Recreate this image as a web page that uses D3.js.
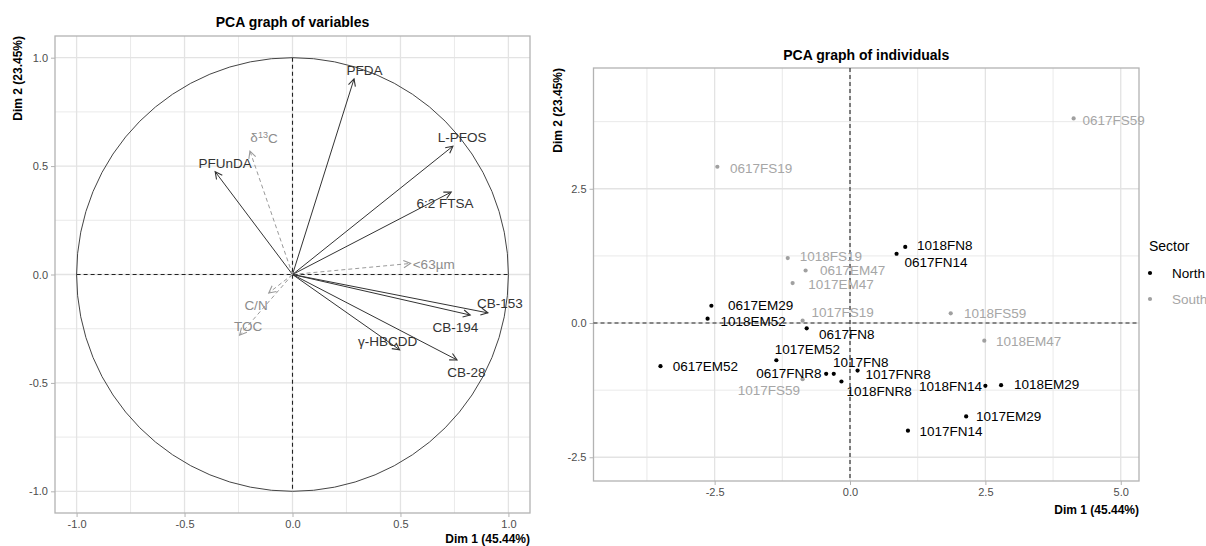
<!DOCTYPE html>
<html><head><meta charset="utf-8">
<script src="https://cdn.jsdelivr.net/npm/d3@7"></script>
<style>
html,body{margin:0;padding:0;background:#fff;}
text{font-family:"Liberation Sans",Arial,sans-serif;}
</style></head>
<body>
<svg id="chart" width="1206" height="546"></svg>
<script>
// ---------- Data: PCA graph of variables ----------
const varNames  = ["PFDA","L-PFOS","6:2 FTSA","PFUnDA","δ13C","<63µm","CB-153","CB-194","γ-HBCDD","CB-28","C/N","TOC"];
const varDim1   = [0.285, 0.743, 0.735, -0.358, -0.197, 0.547, 0.905, 0.823, 0.496, 0.762, -0.11, -0.245];
const varDim2   = [0.902, 0.592, 0.380, 0.474, 0.569, 0.051, -0.177, -0.187, -0.347, -0.394, -0.085, -0.28];
const varSupp   = [false,false,false,false,true,true,false,false,false,false,true,true];
const varLabDim1 = [0.333, 0.786, 0.706, -0.312, -0.132, 0.654, 0.961, 0.754, 0.441, 0.805, -0.169, -0.205];
const varLabDim2 = [0.942, 0.635, 0.328, 0.515, 0.635, 0.046, -0.134, -0.242, -0.309, -0.451, -0.144, -0.239];
const varTicks = [-1.0,-0.5,0.0,0.5,1.0];
const varMinor = [-0.75,-0.25,0.25,0.75];

// ---------- Data: PCA graph of individuals ----------
const indNames = ["0617FS59","0617FS19","1018FN8","0617FN14","1018FS19","0617EM47","1017EM47","0617EM29","1018EM52","1017FS19","0617FN8","1018FS59","1018EM47","1017EM52","0617EM52","0617FNR8","1017FN8","1017FNR8","1018FNR8","1017FS59","1018FN14","1018EM29","1017EM29","1017FN14"];
const indDim1  = [4.13, -2.45, 1.02, 0.86, -1.15, -0.82, -1.06, -2.56, -2.63, -0.875, -0.80, 1.86, 2.48, -1.36, -3.50, -0.44, -0.30, 0.14, -0.158, -0.875, 2.50, 2.79, 2.145, 1.07];
const indDim2  = [3.81, 2.91, 1.417, 1.29, 1.21, 0.978, 0.743, 0.322, 0.08, 0.043, -0.099, 0.18, -0.328, -0.693, -0.804, -0.947, -0.947, -0.885, -1.089, -1.046, -1.17, -1.157, -1.74, -2.005];
const indSector = ["South","South","North","North","South","South","South","North","North","South","North","South","South","North","North","North","North","North","North","South","North","North","North","North"];
const indLabDim1 = [4.87, -1.64, 1.75, 1.59, -0.355, 0.047, -0.166, -1.65, -1.79, -0.138, -0.059, 2.68, 3.30, -0.785, -2.67, -1.13, 0.20, 0.89, 0.536, -1.50, 1.857, 3.63, 2.93, 1.865];
const indLabDim2 = [3.77, 2.89, 1.45, 1.14, 1.24, 0.99, 0.724, 0.334, 0.025, 0.198, -0.204, 0.18, -0.347, -0.483, -0.81, -0.934, -0.736, -0.953, -1.262, -1.244, -1.17, -1.15, -1.74, -2.02];
const indXTicks = [-2.5, 0.0, 2.5, 5.0];
const indXMinor = [-3.75, -1.25, 1.25, 3.75];
const indYTicks = [-2.5, 0.0, 2.5];
const indYMinor = [-1.25, 1.25, 3.75];
const sectors = ["North","South"];

const svg = d3.select("#chart");
const gridCol = "#e3e3e3", borderCol = "#b3b3b3", tickTextCol = "#4d4d4d";
const sectorColor = d3.scaleOrdinal().domain(sectors).range(["#000000","#a0a0a0"]);

// defs: arrow markers
const defs = svg.append("defs");
function marker(id, col){
  defs.append("marker").attr("id", id).attr("markerUnits","userSpaceOnUse")
    .attr("markerWidth", 12).attr("markerHeight", 12).attr("refX", 0).attr("refY", 0)
    .attr("viewBox","-10 -6 12 12").attr("orient","auto")
    .append("path").attr("d","M-7,-3.6 L0,0 L-7,3.6").attr("fill","none")
    .attr("stroke", col).attr("stroke-width", 1.1);
}
marker("arrAct", "#333333");
marker("arrSup", "#9a9a9a");

function panel(g, x, y, xMaj, xMin, yMaj, yMin){
  const [x0,x1] = x.range(), [y1,y0] = y.range();
  g.append("rect").attr("x",x0).attr("y",y0).attr("width",x1-x0).attr("height",y1-y0).attr("fill","#fff");
  g.selectAll(".vmin").data(xMin).join("line").attr("x1",d=>x(d)).attr("x2",d=>x(d)).attr("y1",y0).attr("y2",y1).attr("stroke",gridCol).attr("stroke-width",0.8);
  g.selectAll(".hmin").data(yMin).join("line").attr("y1",d=>y(d)).attr("y2",d=>y(d)).attr("x1",x0).attr("x2",x1).attr("stroke",gridCol).attr("stroke-width",0.8);
  g.selectAll(".vmaj").data(xMaj).join("line").attr("x1",d=>x(d)).attr("x2",d=>x(d)).attr("y1",y0).attr("y2",y1).attr("stroke",gridCol).attr("stroke-width",1.3);
  g.selectAll(".hmaj").data(yMaj).join("line").attr("y1",d=>y(d)).attr("y2",d=>y(d)).attr("x1",x0).attr("x2",x1).attr("stroke",gridCol).attr("stroke-width",1.3);
  g.append("rect").attr("x",x0).attr("y",y0).attr("width",x1-x0).attr("height",y1-y0)
    .attr("fill","none").attr("stroke",borderCol).attr("stroke-width",1.3);
  const fmt = d => d.toFixed(1);
  const ax = g.append("g").attr("transform",`translate(0,${y1})`).call(d3.axisBottom(x).tickValues(xMaj).tickFormat(fmt).tickSize(4).tickPadding(3));
  const ay = g.append("g").attr("transform",`translate(${x0},0)`).call(d3.axisLeft(y).tickValues(yMaj).tickFormat(fmt).tickSize(4).tickPadding(3));
  [ax,ay].forEach(a=>{
    a.select(".domain").remove();
    a.selectAll("line").attr("stroke",borderCol);
    a.selectAll("text").attr("fill",tickTextCol).style("font-size","11px").style("font-family","'Liberation Sans',Arial,sans-serif");
  });
  return {x0,x1,y0,y1};
}

// ---------- Left panel ----------
const xL = d3.scaleLinear().domain([-1.1,1.1]).range([55,530]);
const yL = d3.scaleLinear().domain([-1.1,1.1]).range([513,36]);
const gL = svg.append("g");
const bL = panel(gL, xL, yL, varTicks, varMinor, varTicks, varMinor);

gL.append("ellipse").attr("cx",xL(0)).attr("cy",yL(0)).attr("rx",xL(1)-xL(0)).attr("ry",yL(0)-yL(1))
  .attr("fill","none").attr("stroke","#444").attr("stroke-width",1);
gL.append("line").attr("x1",xL(0)).attr("x2",xL(0)).attr("y1",yL(1)).attr("y2",yL(-1)).attr("stroke","#222").attr("stroke-dasharray","4,3").attr("stroke-width",1.1);
gL.append("line").attr("x1",xL(-1)).attr("x2",xL(1)).attr("y1",yL(0)).attr("y2",yL(0)).attr("stroke","#222").attr("stroke-dasharray","4,3").attr("stroke-width",1.1);

const vars = varNames.map((n,i)=>({n, x:varDim1[i], y:varDim2[i], s:varSupp[i], lx:varLabDim1[i], ly:varLabDim2[i]}));
gL.selectAll(".arr").data(vars).join("line")
  .attr("x1",xL(0)).attr("y1",yL(0)).attr("x2",d=>xL(d.x)).attr("y2",d=>yL(d.y))
  .attr("stroke",d=>d.s?"#9a9a9a":"#333333").attr("stroke-width",1)
  .attr("stroke-dasharray",d=>d.s?"4,3":null)
  .attr("marker-end",d=>d.s?"url(#arrSup)":"url(#arrAct)");
const vlab = gL.selectAll(".vlab").data(vars).join("text")
  .attr("x",d=>xL(d.lx)).attr("y",d=>yL(d.ly)).attr("dy","0.35em")
  .attr("text-anchor","middle").style("font-size","13.5px")
  .attr("fill",d=>d.s?"#8c8c8c":"#333333");
vlab.each(function(d){
  const t = d3.select(this);
  const m = d.n.match(/^δ(\d+)(.*)$/);
  if(m){
    t.append("tspan").text("δ");
    t.append("tspan").text(m[1]).attr("dy","-0.4em").style("font-size","9px");
    t.append("tspan").text(m[2]).attr("dy","0.4em");
  } else t.text(d.n);
});

svg.append("text").attr("x",(bL.x0+bL.x1)/2).attr("y",27).attr("text-anchor","middle")
  .style("font-size","14px").style("font-weight","bold").attr("fill","#000").text("PCA graph of variables");
svg.append("text").attr("x",bL.x1).attr("y",543).attr("text-anchor","end")
  .style("font-size","12px").style("font-weight","bold").attr("fill","#000").text("Dim 1 (45.44%)");
svg.append("text").attr("transform",`translate(22,${bL.y0}) rotate(-90)`).attr("text-anchor","end")
  .style("font-size","12px").style("font-weight","bold").attr("fill","#000").text("Dim 2 (23.45%)");

// ---------- Right panel ----------
const xR = d3.scaleLinear().domain([-4.737,5.337]).range([593.5,1139]);
const yR = d3.scaleLinear().domain([-2.942,4.749]).range([481,68]);
const gR = svg.append("g");
const bR = panel(gR, xR, yR, indXTicks, indXMinor, indYTicks, indYMinor);
gR.append("line").attr("x1",xR(0)).attr("x2",xR(0)).attr("y1",bR.y0).attr("y2",bR.y1).attr("stroke","#222").attr("stroke-dasharray","4,3").attr("stroke-width",1.1);
gR.append("line").attr("x1",bR.x0).attr("x2",bR.x1).attr("y1",yR(0)).attr("y2",yR(0)).attr("stroke","#222").attr("stroke-dasharray","4,3").attr("stroke-width",1.1);

const inds = indNames.map((n,i)=>({n, x:indDim1[i], y:indDim2[i], s:indSector[i], lx:indLabDim1[i], ly:indLabDim2[i]}));
gR.selectAll(".pt").data(inds).join("circle").attr("cx",d=>xR(d.x)).attr("cy",d=>yR(d.y)).attr("r",2.1)
  .attr("fill",d=>sectorColor(d.s));
gR.selectAll(".il").data(inds).join("text").attr("x",d=>xR(d.lx)).attr("y",d=>yR(d.ly)).attr("dy","0.35em")
  .attr("text-anchor","middle").style("font-size","13.5px").attr("fill",d=>d.s==="South"?"#a6a6a6":"#000").text(d=>d.n);

svg.append("text").attr("x",(bR.x0+bR.x1)/2).attr("y",60).attr("text-anchor","middle")
  .style("font-size","14px").style("font-weight","bold").attr("fill","#000").text("PCA graph of individuals");
svg.append("text").attr("x",bR.x1).attr("y",514).attr("text-anchor","end")
  .style("font-size","12px").style("font-weight","bold").attr("fill","#000").text("Dim 1 (45.44%)");
svg.append("text").attr("transform",`translate(562,${bR.y0}) rotate(-90)`).attr("text-anchor","end")
  .style("font-size","12px").style("font-weight","bold").attr("fill","#000").text("Dim 2 (23.45%)");

// legend
const lg = svg.append("g");
lg.append("text").attr("x",1149).attr("y",246).attr("dy","0.35em").style("font-size","14px").attr("fill","#000").text("Sector");
const li = lg.selectAll(".li").data(sectors).join("g").attr("transform",(d,i)=>`translate(1150,${273+i*26})`);
li.append("circle").attr("r",2.1).attr("fill",d=>sectorColor(d));
li.append("text").attr("x",22).attr("dy","0.35em").style("font-size","13.5px").attr("fill",d=>d==="South"?"#a6a6a6":"#000").text(d=>d);
</script>
</body></html>
